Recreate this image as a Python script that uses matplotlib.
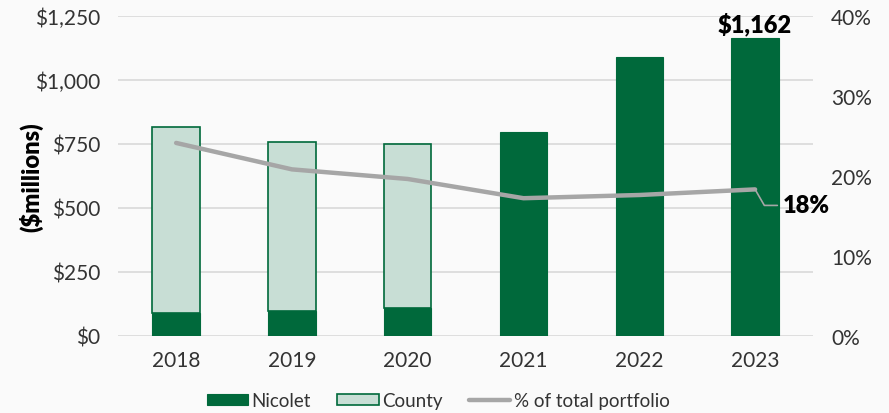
import matplotlib
matplotlib.use("Agg")
import matplotlib.pyplot as plt
from matplotlib.ticker import FuncFormatter

plt.rcParams['font.family'] = ['Lato', 'DejaVu Sans']

years = ["2018", "2019", "2020", "2021", "2022", "2023"]
nicolet = [90, 96, 109, 796, 1089, 1162]
county = [724, 659, 641, 0, 0, 0]
pct_total = [24.1, 20.8, 19.6, 17.2, 17.6, 18.3]

dark = "#00693B"
light = "#C8DED5"
gray = "#A6A6A6"
bg = "#FAFAFA"
txt = "#333333"

fig = plt.figure(figsize=(8.89, 4.14), dpi=100, facecolor=bg)
ax = fig.add_axes([0.133, 0.186, 0.7815, 0.774], facecolor=bg)
x = list(range(len(years)))
w = 0.41
ax.bar(x, nicolet, width=w, color=dark, edgecolor=dark, linewidth=0.8, label="Nicolet", zorder=2)
cx = [i for i, c in zip(x, county) if c > 0]
cb = [n for n, c in zip(nicolet, county) if c > 0]
cv = [c for c in county if c > 0]
ax.bar(cx, cv, bottom=cb, width=w, color=light, edgecolor=dark, linewidth=1.2, label="County", zorder=2)

ax.set_ylim(0, 1250)
ax.set_yticks([0, 250, 500, 750, 1000, 1250])
ax.yaxis.set_major_formatter(FuncFormatter(lambda v, p: f"${v:,.0f}"))
ax.set_xlim(-0.5, 5.5)
ax.set_xticks(x)
ax.set_xticklabels(years)
ax.grid(axis='y', color="#D9D9D9", linewidth=1.2, zorder=0)
ax.set_axisbelow(True)
for s in ax.spines.values():
    s.set_visible(False)
ax.tick_params(axis='both', length=0, labelsize=15, colors=txt)
ax.tick_params(axis='x', pad=10)
ax.tick_params(axis='y', pad=13)
ax.set_ylabel("($millions)", fontsize=17, fontweight='heavy', color="black", va='center')
ax.yaxis.set_label_coords(-0.125, 0.5)

ax.text(x[-1], nicolet[-1] + 12, f"${nicolet[-1]:,}", ha='center', va='bottom',
        fontsize=17, fontweight='heavy', color="black")

ax2 = ax.twinx()
ax2.set_ylim(0, 40)
ax2.set_yticks([0, 10, 20, 30, 40])
ax2.yaxis.set_major_formatter(FuncFormatter(lambda v, p: f"{v:.0f}%"))
ax2.plot(x, pct_total, color=gray, linewidth=3.2, solid_capstyle='round', label="% of total portfolio", zorder=3)
for s in ax2.spines.values():
    s.set_visible(False)
ax2.tick_params(axis='y', length=0, labelsize=15, colors=txt, pad=13)

ax2.annotate(f"{pct_total[-1]:.0f}%", xy=(x[-1], pct_total[-1]), xytext=(x[-1] + 0.24, pct_total[-1] - 2.0),
             fontsize=17, fontweight='heavy', va='center', ha='left',
             arrowprops=dict(arrowstyle='-', color=gray, linewidth=1.2,
                             connectionstyle="angle,angleA=0,angleB=-60,rad=0", shrinkA=2, shrinkB=0))

h1, l1 = ax.get_legend_handles_labels()
h2, l2 = ax2.get_legend_handles_labels()
fig.legend(h1 + h2, l1 + l2, loc='lower center', bbox_to_anchor=(0.493, -0.032), ncol=3,
           frameon=False, fontsize=13.5, handlelength=2.2, handleheight=0.55, handletextpad=0.2,
           columnspacing=1.4, labelcolor=txt)

fig.savefig("out.png", dpi=100, facecolor=bg)
